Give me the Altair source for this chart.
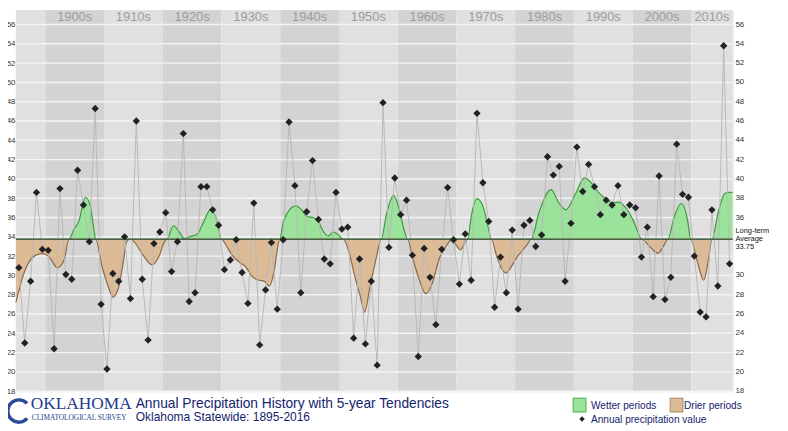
import altair as alt
import pandas as pd

# ---------------- data ----------------
years = list(range(1895, 2017))
precip = [
    30.8, 23.0, 29.4, 38.6, 32.7, 32.6, 22.4, 39.0, 30.1, 29.6,   # 1895-1904
    40.9, 37.3, 33.5, 47.3, 27.0, 20.3, 30.2, 29.4, 34.0, 27.6,   # 1905-1914
    46.0, 29.6, 23.3, 33.3, 34.5, 36.5, 30.4, 33.5, 44.7, 27.3,   # 1915-1924
    28.2, 39.2, 39.2, 36.8, 35.2, 30.6, 31.6, 33.7, 30.3, 27.1,   # 1925-1934
    37.5, 22.8, 28.5, 33.4, 26.5, 33.7, 45.9, 39.3, 28.2, 36.6,   # 1935-1944
    41.9, 35.8, 31.7, 31.2, 38.6, 34.8, 35.0, 23.5, 31.7, 22.9,   # 1945-1954
    29.4, 20.7, 47.9, 32.9, 40.1, 36.3, 37.8, 32.1, 21.6, 32.8,   # 1955-1964
    29.8, 24.9, 32.7, 39.1, 33.7, 29.1, 34.3, 29.5, 46.8, 39.6,   # 1965-1974
    35.6, 26.7, 31.9, 28.2, 34.7, 26.5, 35.2, 35.7, 33.0, 34.2,   # 1975-1984
    42.3, 40.4, 41.3, 29.4, 35.4, 43.3, 38.7, 41.5, 39.2, 36.3,   # 1985-1994
    37.8, 37.3, 39.3, 36.3, 37.3, 37.0, 31.9, 35.0, 27.8, 40.3,   # 1995-2004
    27.5, 29.8, 43.6, 38.4, 38.1, 32.0, 26.2, 25.7, 36.8, 28.9,   # 2005-2014
    53.8, 31.2,                                                   # 2015-2016
]

# 5-year tendency curve (position on the time axis, value)
curve_t = [
    1895.0, 1896.47, 1898.4, 1899.55, 1900.67, 1902.07, 1903.2, 1904.04, 1904.9, 1905.7,
    1906.85, 1907.7, 1908.24, 1908.6, 1909.6, 1910.8, 1911.5, 1912.45, 1913.3, 1913.85,
    1914.4, 1915.1, 1916.65, 1918.2, 1919.45, 1920.3, 1920.7, 1921.8, 1922.8, 1923.67,
    1924.5, 1925.9, 1927.0, 1928.1, 1929.0, 1930.05, 1930.7, 1931.8, 1933.2, 1934.1,
    1935.2, 1936.4, 1937.3, 1938.1, 1939.0, 1939.5, 1939.9, 1940.6, 1942.6, 1943.7,
    1944.55, 1945.65, 1946.5, 1947.4, 1948.2, 1949.05, 1949.9, 1950.75, 1951.6, 1952.7,
    1953.6, 1954.4, 1955.2, 1956.4, 1957.2, 1958.1, 1959.3, 1960.3, 1961.1, 1961.7,
    1962.5, 1963.65, 1964.8, 1965.9, 1967.0, 1968.4, 1969.25, 1970.1, 1970.7, 1971.5,
    1971.9, 1972.6, 1973.5, 1974.55, 1975.4, 1975.95, 1976.8, 1977.7, 1978.4, 1980.2,
    1982.15, 1982.7, 1984.1, 1986.1, 1987.5, 1988.6, 1990.3, 1991.8, 1993.1, 1994.2,
    1995.35, 1996.45, 1997.6, 1998.7, 2000.1, 2000.9, 2001.5, 2003.2, 2004.3, 2005.4,
    2006.0, 2007.1, 2008.3, 2009.3, 2009.9, 2011.0, 2012.1, 2012.95, 2013.5, 2014.6,
    2015.7, 2016.55, 2017.0,
]
curve_v = [
    27.2, 30.4, 32.1, 32.25, 31.9, 30.8, 31.6, 33.75, 34.8, 35.6,
    38.1, 37.1, 34.9, 33.75, 31.1, 28.7, 27.75, 28.7, 31.45, 33.5,
    33.75, 33.5, 32.1, 31.1, 32.1, 33.5, 33.75, 35.15, 34.5, 33.85,
    34.0, 34.3, 35.6, 36.8, 36.1, 33.75, 33.2, 32.1, 31.3, 30.9,
    29.9, 29.5, 29.4, 28.9, 30.6, 32.65, 33.75, 35.7, 37.2, 36.75,
    36.1, 36.0, 35.6, 34.5, 34.1, 34.5, 34.2, 33.75, 32.65, 29.9,
    27.9, 26.2, 28.55, 31.95, 33.75, 36.4, 38.3, 36.75, 34.7, 33.75,
    31.95, 29.6, 28.1, 29.2, 31.6, 33.2, 33.7, 33.0, 32.65, 33.5,
    33.75, 36.4, 37.95, 37.1, 35.0, 33.75, 32.1, 30.7, 30.25, 31.8,
    33.3, 33.75, 36.6, 38.9, 37.45, 36.8, 38.5, 40.1, 39.5, 38.6,
    37.95, 37.55, 37.6, 37.1, 35.7, 34.5, 33.75, 32.8, 32.3, 33.2,
    33.75, 36.1, 37.45, 35.9, 33.75, 31.45, 29.5, 31.8, 33.75, 36.6,
    38.5, 38.6, 38.6,
]

decade_starts = [1890, 1900, 1910, 1920, 1930, 1940, 1950, 1960, 1970, 1980, 1990, 2000, 2010]
decade_labels = ["", "1900s", "1910s", "1920s", "1930s", "1940s", "1950s", "1960s",
                 "1970s", "1980s", "1990s", "2000s", "2010s"]
grid_values = list(range(18, 57, 2))
right_label_values = [18, 20, 22, 24, 26, 28, 30, 36, 38, 40, 42, 44, 46, 48, 50, 52, 54, 56]
long_term_avg = 33.75

# ---------------- layout ----------------
W, H = 724, 385
X0, X1 = 1895, 2017
PX_PER_UNIT = 9.75
Y0, Y1 = 18, 18 + H / PX_PER_UNIT

SANS = "Liberation Sans, Arial, sans-serif"
SERIF = "Liberation Serif, Times New Roman, serif"
NAVY = "#15246c"

xs = alt.Scale(domain=[X0, X1], nice=False, zero=False)
ys = alt.Scale(domain=[Y0, Y1], nice=False, zero=False)
yaxis = alt.Axis(values=grid_values, title=None, ticks=False, domain=False, grid=False,
                 labelFontSize=8, labelFont=SANS, labelColor="#333", labelPadding=1)

# ---------------- frames ----------------
bands = pd.DataFrame({
    "start": [max(d, X0) for d in decade_starts],
    "end": [min(d + 10, X1) for d in decade_starts],
    "label": decade_labels,
    "shade": ["light" if i % 2 == 0 else "dark" for i in range(len(decade_starts))],
})
bands["mid"] = (bands["start"] + bands["end"]) / 2
pts = pd.DataFrame({"year": years, "p": precip})
pts["t"] = pts["year"] + 0.5
curve = pd.DataFrame({"t": curve_t, "v": curve_v})
curve["avg"] = long_term_avg
curve["up"] = curve["v"].clip(lower=long_term_avg)
curve["dn"] = curve["v"].clip(upper=long_term_avg)
grid = pd.DataFrame({"g": grid_values})
rlab = pd.DataFrame({"v": right_label_values})
avg_df = pd.DataFrame({"avg": [long_term_avg]})

X = lambda f: alt.X(f, type="quantitative", scale=xs, axis=None)
Y = lambda f, ax=None: alt.Y(f, type="quantitative", scale=ys, axis=ax)

band_layer = alt.Chart(bands).mark_rect().encode(
    x=X("start"), x2="end", y=alt.value(0), y2=alt.value(H),
    color=alt.Color("shade:N", scale=alt.Scale(domain=["light", "dark"],
                                               range=["#e0e0e0", "#d3d3d3"]), legend=None),
)
decade_text = alt.Chart(bands).mark_text(fontSize=13, font=SANS, color="#9c9c9c",
                                         baseline="middle").encode(
    x=X("mid"), y=alt.value(6.5), text="label:N")

grid_layer = alt.Chart(grid).mark_rule(color="#f4f4f4", strokeWidth=1.5).encode(
    y=Y("g", yaxis))

area_up = alt.Chart(curve).mark_area(interpolate="monotone", color="#9be29b", opacity=1).encode(
    x=X("t"), y=Y("up", yaxis), y2="avg")
area_dn = alt.Chart(curve).mark_area(interpolate="monotone", color="#dcbb96", opacity=1).encode(
    x=X("t"), y=Y("dn", yaxis), y2="avg")
line_up = alt.Chart(curve).mark_line(interpolate="monotone", color="#3f9a3f", strokeWidth=1.2).encode(
    x=X("t"), y=Y("up", yaxis))
line_dn = alt.Chart(curve).mark_line(interpolate="monotone", color="#8a6a45", strokeWidth=1.2).encode(
    x=X("t"), y=Y("dn", yaxis))

conn = alt.Chart(pts).mark_line(color="#b9b9b9", strokeWidth=1).encode(
    x=X("t"), y=Y("p", yaxis))
avg_rule = alt.Chart(avg_df).mark_rule(color="#4b5e45", strokeWidth=1.5).encode(
    y=Y("avg", yaxis))
diamonds = alt.Chart(pts).mark_point(shape="diamond", filled=True, size=55, color="#222",
                                     opacity=1).encode(x=X("t"), y=Y("p", yaxis))

right_labels = alt.Chart(rlab).mark_text(align="left", baseline="middle", fontSize=8,
                                         font=SANS, color="#333").encode(
    x=alt.value(W + 3), y=Y("v", yaxis), text="v:Q")

lt_lines = pd.DataFrame({"txt": ["Long-term", "Average", "33.75"], "dy": [223.5, 231.5, 239.5]})
lt_text = alt.Chart(lt_lines).mark_text(align="left", baseline="middle", fontSize=7.5,
                                        font=SANS, color="#111").encode(
    x=alt.value(W + 3), y=alt.Y("dy:Q", scale=None, axis=None), text="txt:N")

# bottom annotations (title, logo, legend)
notes = pd.DataFrame({
    "txt": ["Annual Precipitation History with 5-year Tendencies",
            "Oklahoma Statewide: 1895-2016",
            "Wetter periods", "Drier periods", "Annual precipitation value"],
    "px": [121, 121, 581, 675, 581],
    "py": [397.5, 411.5, 399.5, 399.5, 414],
    "fs": [13.9, 12.1, 10.2, 10.2, 10.2],
})
notes_layer = alt.Chart(notes).mark_text(align="left", baseline="middle", font=SANS,
                                         color=NAVY).encode(
    x=alt.X("px:Q", scale=None, axis=None), y=alt.Y("py:Q", scale=None, axis=None),
    text="txt:N", size=alt.Size("fs:Q", scale=None, legend=None))

logo_big = alt.Chart(pd.DataFrame({"txt": ["OKLAHOMA"]})).mark_text(
    align="left", baseline="middle", font=SERIF, fontSize=17.5, color="#1f3c8c").encode(
    x=alt.value(15), y=alt.value(398), text="txt:N")
logo_small = alt.Chart(pd.DataFrame({"txt": ["CLIMATOLOGICAL SURVEY"]})).mark_text(
    align="left", baseline="middle", font=SERIF, fontSize=7.4, color="#1f3c8c").encode(
    x=alt.value(16), y=alt.value(412), text="txt:N")
logo_swirl = alt.Chart(pd.DataFrame({"k": [1]})).mark_arc(color="#2b4a98").encode(
    x=alt.value(3), y=alt.value(405), theta=alt.value(2.3), theta2=alt.value(7.1),
    radius=alt.value(13), radius2=alt.value(9.5))

leg_boxes = pd.DataFrame({"x": [563, 661], "x2": [576, 674], "kind": ["wet", "dry"]})
leg_rect = alt.Chart(leg_boxes).mark_rect(strokeWidth=1).encode(
    x=alt.X("x:Q", scale=None, axis=None), x2="x2:Q",
    y=alt.value(392), y2=alt.value(406),
    fill=alt.Fill("kind:N", scale=alt.Scale(domain=["wet", "dry"], range=["#9be29b", "#dcbb96"]), legend=None),
    stroke=alt.Stroke("kind:N", scale=alt.Scale(domain=["wet", "dry"], range=["#4fa84f", "#a98a66"]), legend=None),
)
leg_diamond = alt.Chart(pd.DataFrame({"k": [1]})).mark_point(
    shape="diamond", filled=True, size=30, color="#222", opacity=1).encode(
    x=alt.value(572), y=alt.value(413))

chart = alt.layer(
    band_layer, grid_layer, decade_text, area_up, area_dn, line_up, line_dn,
    conn, avg_rule, diamonds, right_labels, lt_text,
    notes_layer, logo_swirl, logo_big, logo_small, leg_rect, leg_diamond,
).resolve_scale(color="independent").properties(
    width=W, height=H,
    autosize=alt.AutoSizeParams(type="none"),
    padding={"left": 8, "top": 0, "right": 48, "bottom": 38},
).configure_view(stroke="#5a5a5a", strokeWidth=1.5).configure(background="white")

chart.save("out.html", embed_options={"renderer": "svg", "actions": False})
